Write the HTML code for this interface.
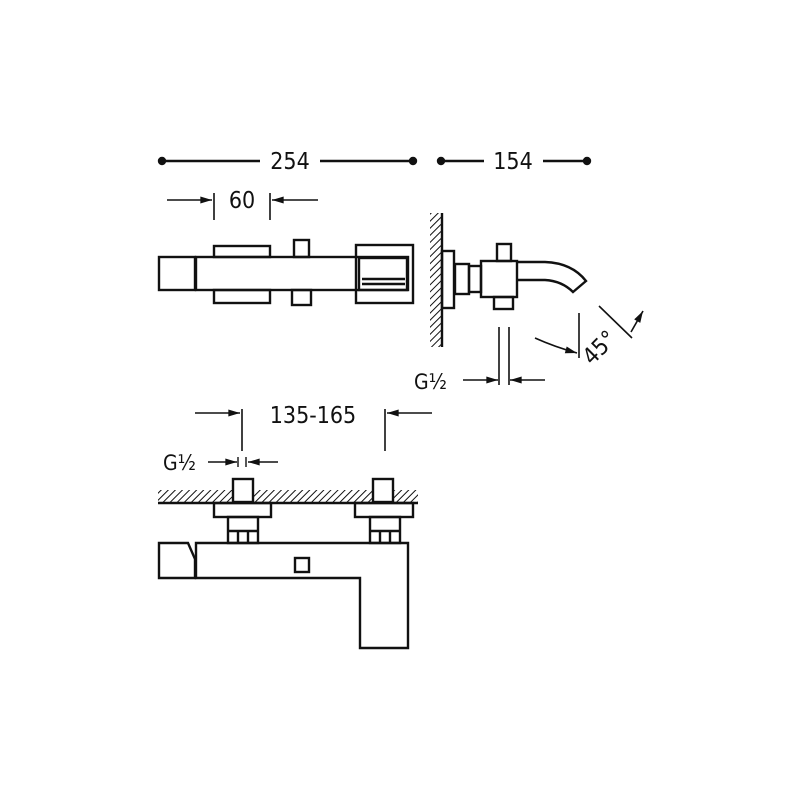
<!DOCTYPE html>
<html><head><style>html,body{margin:0;padding:0;background:#fff}svg{display:block}</style></head><body>
<svg width="800" height="800" viewBox="0 0 800 800" xmlns="http://www.w3.org/2000/svg" font-family="DejaVu Sans Condensed, Liberation Sans Narrow, Liberation Sans, sans-serif">
<defs>
<marker id="a" viewBox="0 0 10 6" refX="10" refY="3" markerWidth="16" markerHeight="7" markerUnits="userSpaceOnUse" orient="auto"><path d="M0,0L10,3L0,6z" fill="#111"/></marker>
<pattern id="h" width="5" height="5" patternUnits="userSpaceOnUse" patternTransform="rotate(45)"><line x1="0" y1="0" x2="0" y2="5" stroke="#111" stroke-width="2"/></pattern>
</defs>
<g stroke="#111" stroke-width="2.4" fill="none">
<circle cx="162" cy="161" r="3" fill="#111"/><circle cx="413" cy="161" r="3" fill="#111"/>
<line x1="162" y1="161" x2="260" y2="161"/><line x1="320" y1="161" x2="413" y2="161"/>
<circle cx="441" cy="161" r="3" fill="#111"/><circle cx="587" cy="161" r="3" fill="#111"/>
<line x1="441" y1="161" x2="484" y2="161"/><line x1="543" y1="161" x2="587" y2="161"/>
<line x1="167" y1="200" x2="212" y2="200" marker-end="url(#a)" stroke-width="1.6"/>
<line x1="214" y1="193" x2="214" y2="220" stroke-width="1.6"/>
<line x1="318" y1="200" x2="272" y2="200" marker-end="url(#a)" stroke-width="1.6"/>
<line x1="270" y1="193" x2="270" y2="220" stroke-width="1.6"/>
<rect x="159" y="257" width="36" height="33"/>
<rect x="196" y="257" width="212" height="33"/>
<rect x="214" y="246" width="56" height="11"/>
<rect x="214" y="290" width="56" height="13"/>
<rect x="294" y="240" width="15" height="17"/>
<rect x="292" y="290" width="19" height="15"/>
<rect x="356" y="245" width="57" height="58"/>
<rect x="359" y="258" width="48" height="32"/>
<line x1="362" y1="279" x2="405" y2="279"/><line x1="362" y1="284" x2="405" y2="284"/>
<rect x="430" y="213" width="12" height="134" fill="url(#h)" stroke="none"/>
<line x1="442" y1="213" x2="442" y2="347"/>
<rect x="442" y="251" width="12" height="57"/>
<rect x="455" y="264" width="14" height="30"/>
<rect x="469" y="266" width="12" height="26"/>
<rect x="481" y="261" width="36" height="36"/>
<rect x="497" y="244" width="14" height="17"/>
<rect x="494" y="297" width="19" height="12"/>
<path d="M517,262 L545,262 Q572,263 586,281 L573,292 Q562,281 545,280 L517,280"/>
<line x1="499" y1="327" x2="499" y2="385" stroke-width="1.6"/>
<line x1="509" y1="327" x2="509" y2="385" stroke-width="1.6"/>
<line x1="463" y1="380" x2="498" y2="380" marker-end="url(#a)" stroke-width="1.6"/>
<line x1="545" y1="380" x2="510" y2="380" marker-end="url(#a)" stroke-width="1.6"/>
<line x1="579" y1="313" x2="579" y2="358" stroke-width="1.6"/>
<path d="M535,338 Q555,347 577,353" marker-end="url(#a)" stroke-width="1.6"/>
<line x1="599" y1="306" x2="632" y2="338" stroke-width="1.6"/>
<line x1="631" y1="332" x2="643" y2="311" marker-end="url(#a)" stroke-width="1.6"/>
<line x1="195" y1="413" x2="240" y2="413" marker-end="url(#a)" stroke-width="1.6"/>
<line x1="242" y1="409" x2="242" y2="451" stroke-width="1.6"/>
<line x1="432" y1="413" x2="387" y2="413" marker-end="url(#a)" stroke-width="1.6"/>
<line x1="385" y1="409" x2="385" y2="451" stroke-width="1.6"/>
<line x1="208" y1="462" x2="237" y2="462" marker-end="url(#a)" stroke-width="1.6"/>
<line x1="238" y1="457" x2="238" y2="467" stroke-width="1.4"/>
<line x1="246" y1="457" x2="246" y2="467" stroke-width="1.4"/>
<line x1="278" y1="462" x2="248" y2="462" marker-end="url(#a)" stroke-width="1.6"/>
<rect x="158" y="490" width="260" height="13" fill="url(#h)" stroke="none"/>
<line x1="158" y1="503" x2="418" y2="503"/>
<rect x="233" y="479" width="20" height="23" fill="#fff"/>
<rect x="373" y="479" width="20" height="23" fill="#fff"/>
<rect x="214" y="503" width="57" height="14"/>
<rect x="355" y="503" width="58" height="14"/>
<rect x="228" y="517" width="30" height="26"/>
<line x1="228" y1="531" x2="258" y2="531"/><line x1="238" y1="531" x2="238" y2="543"/><line x1="248" y1="531" x2="248" y2="543"/>
<rect x="370" y="517" width="30" height="26"/>
<line x1="370" y1="531" x2="400" y2="531"/><line x1="380" y1="531" x2="380" y2="543"/><line x1="390" y1="531" x2="390" y2="543"/>
<path d="M159,543 L188,543 L195,559 L195,578 L159,578 Z"/>
<path d="M196,543 L408,543 L408,648 L360,648 L360,578 L196,578 Z"/>
<rect x="295" y="558" width="14" height="14"/>
</g>
<g fill="#111" font-size="23">
<text x="290" y="169" text-anchor="middle">254</text>
<text x="513" y="169" text-anchor="middle">154</text>
<text x="242" y="208" text-anchor="middle">60</text>
<text x="313" y="423" text-anchor="middle">135-165</text>
<text x="163" y="470" font-size="21">G½</text>
<text x="414" y="389" font-size="21">G½</text>
<text x="0" y="0" transform="translate(592,366) rotate(-45)">45°</text>
</g>
</svg>
</body></html>
